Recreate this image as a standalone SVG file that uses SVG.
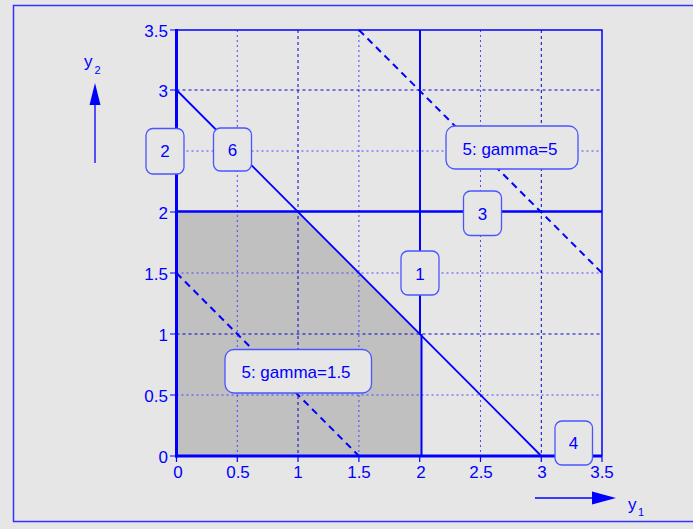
<svg xmlns="http://www.w3.org/2000/svg" width="693" height="529" viewBox="0 0 693 529">
<defs>
<style>
text{font-family:"Liberation Sans",Arial,sans-serif;fill:#0000ff;}
.tk{font-size:17px;}
.yl{text-anchor:end;}
.xl{text-anchor:middle;}
.box rect{fill:#e6e6e6;stroke:#4a55ff;stroke-width:1.3;}
.box text{font-size:17px;text-anchor:middle;}
.g1{stroke:#0000cc;stroke-width:1;stroke-dasharray:3,3;fill:none;}
.g2{stroke:#4848ff;stroke-width:1;stroke-dasharray:2,3;fill:none;}
.c{stroke:#0000ff;fill:none;}
.dash{stroke:#0000ff;stroke-width:2;stroke-dasharray:7,5;fill:none;}
</style>
</defs>
<rect x="0" y="0" width="693" height="529" fill="#e6e6e6"/>
<rect x="13.5" y="5.5" width="690" height="516" fill="none" stroke="#3333ff" stroke-width="1.5"/>

<g id="feasible-region">
<polygon points="176.5,456 176.5,212 298,212 421,334 421,456" fill="#c0c0c0"/>
</g>

<g id="grid">
<path class="g2" d="M237.3,30V456M358.9,30V456M480.5,30V456M176.5,395H602M176.5,273H602M176.5,151H602"/>
<path class="g1" d="M298,30V456M541.3,30V456M176.5,334H602M176.5,90H602"/>
</g>

<g id="axes">
<path class="c" stroke-width="1.5" d="M176.5,30H602V456"/>
<path class="c" stroke-width="1.2" d="M170,30H176.5M170,90H176.5M170,151H176.5M170,212H176.5M170,273H176.5M170,334H176.5M170,395H176.5M170,456H176.5"/>
<path class="c" stroke-width="1.2" d="M176.5,456V462M237.3,456V462M298,456V462M358.9,456V462M419.7,456V462M480.5,456V462M541.3,456V462M602,456V462"/>
<g class="tk yl">
<text x="168" y="37">3.5</text>
<text x="168" y="97">3</text>
<text x="168" y="219">2</text>
<text x="168" y="280">1.5</text>
<text x="168" y="341">1</text>
<text x="168" y="402">0.5</text>
<text x="168" y="463">0</text>
</g>
<g class="tk xl">
<text x="178" y="478">0</text>
<text x="238" y="478">0.5</text>
<text x="298" y="478">1</text>
<text x="359" y="478">1.5</text>
<text x="421" y="478">2</text>
<text x="481" y="478">2.5</text>
<text x="542" y="478">3</text>
<text x="602" y="478">3.5</text>
</g>
<text x="84" y="67" font-size="17">y</text><text x="94.5" y="74" font-size="11">2</text>
<line x1="95" y1="104" x2="95" y2="163" stroke="#0000ff" stroke-width="1.3"/>
<polygon points="95,83 89.5,105 100.5,105" fill="#0000ff"/>
<line x1="535" y1="498" x2="594" y2="498" stroke="#0000ff" stroke-width="1.3"/>
<polygon points="616,498 592,491.5 592,504.5" fill="#0000ff"/>
<text x="628" y="509.5" font-size="17">y</text><text x="638" y="516" font-size="11">1</text>
</g>

<g id="connectors">
<line id="c2" class="c" stroke-width="3" x1="176.5" y1="29" x2="176.5" y2="457.5"/>
<line id="c4" class="c" stroke-width="3" x1="175" y1="456" x2="602" y2="456"/>
<line id="c3" class="c" stroke-width="2.5" x1="176.5" y1="211.5" x2="602" y2="211.5"/>
<line id="c1a" class="c" stroke-width="2" x1="420" y1="30" x2="420" y2="334"/>
<line id="c1b" class="c" stroke-width="2" x1="421.5" y1="334" x2="421.5" y2="456"/>
<line id="c6" class="c" stroke-width="1.8" x1="176.5" y1="90" x2="541.3" y2="456"/>
<line id="c5a" class="dash" x1="176.5" y1="273" x2="359" y2="456"/>
<line id="c5b" class="dash" x1="359" y1="30" x2="602" y2="273"/>
</g>

<g id="n2" class="box"><rect x="146" y="128.5" width="38" height="45.5" rx="7"/><text x="165" y="157">2</text></g>
<g id="n6" class="box"><rect x="213.5" y="128" width="38" height="43" rx="7"/><text x="232.5" y="156">6</text></g>
<g id="n5b" class="box"><rect x="446" y="126" width="132" height="43" rx="9"/><text x="510" y="155">5: gamma=5</text></g>
<g id="n3" class="box"><rect x="463.5" y="191" width="38" height="44.5" rx="7"/><text x="482.5" y="219.5">3</text></g>
<g id="n1" class="box"><rect x="401" y="251" width="38" height="44" rx="7"/><text x="420" y="280">1</text></g>
<g id="n5a" class="box"><rect x="225" y="349.5" width="146.5" height="43.5" rx="9"/><text x="296" y="378">5: gamma=1.5</text></g>
<g id="n4" class="box"><rect x="555" y="421" width="37.5" height="44" rx="7"/><text x="573.5" y="449">4</text></g>
</svg>
